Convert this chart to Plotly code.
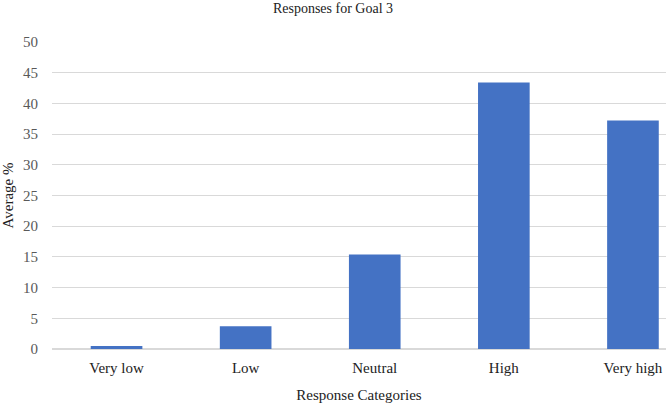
import plotly.graph_objects as go

categories = ["Very low", "Low", "Neutral", "High", "Very high"]
values = [0.5, 3.7, 15.4, 43.4, 37.2]
y_ticks = [0, 5, 10, 15, 20, 25, 30, 35, 40, 45, 50]

font_family = "Liberation Serif, Times New Roman, serif"

fig = go.Figure(go.Bar(x=list(range(len(categories))), y=values,
                       marker=dict(color="#4472C4", line=dict(width=0)),
                       width=0.4))

fig.update_layout(
    width=666, height=404,
    margin=dict(l=52, r=0, t=42, b=55),
    paper_bgcolor="white", plot_bgcolor="white",
    font=dict(family=font_family, size=15, color="#595959"),
    title=dict(text="Responses for Goal 3", x=0.5, xanchor="center", xref="container",
               y=1 - 8 / 404, yanchor="middle", yref="container",
               font=dict(family=font_family, size=14, color="#222222")),
    showlegend=False,
)
fig.update_xaxes(
    tickmode="array", tickvals=list(range(len(categories))), ticktext=categories,
    range=[-0.5, 4.256], showgrid=False, showline=False, zeroline=False,
    ticks="", automargin=False, ticklabelstandoff=8,
    title=dict(text="Response Categories", standoff=14,
               font=dict(family=font_family, size=15, color="#222222")),
    tickfont=dict(family=font_family, size=15, color="#222222"),
)
fig.update_yaxes(
    range=[0, 50], tickvals=y_ticks, showgrid=True, gridcolor="#D9D9D9", gridwidth=1,
    zeroline=True, zerolinecolor="#D9D9D9", showline=False, ticks="",
    automargin=False, ticklabelstandoff=13,
    title=dict(text="Average %", standoff=6,
               font=dict(family=font_family, size=15, color="#222222")),
    tickfont=dict(family=font_family, size=15, color="#595959"),
)

fig.write_html("out.html", config={"displayModeBar": False},
               post_script="document.body.style.margin='0';")
